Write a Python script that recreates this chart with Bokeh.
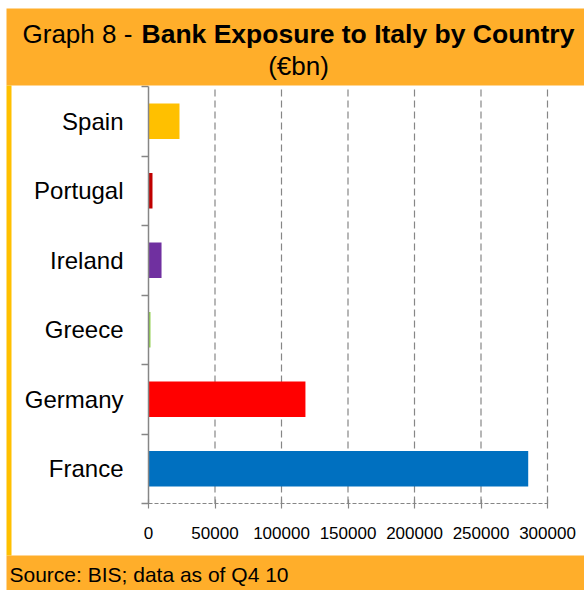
from bokeh.plotting import figure
from bokeh.models import (Range1d, LinearAxis, FixedTicker, Label, BoxAnnotation,
                          BasicTickFormatter, ColumnDataSource)
from bokeh.embed import file_html
from bokeh.resources import INLINE

# ---- data ----
countries = ["France", "Germany", "Greece", "Ireland", "Portugal", "Spain"]
exposure = [285500, 118000, 1500, 9800, 3000, 23300]
bar_colors = ["#0070C0", "#FF0000", "#92D050", "#7030A0", "#C00000", "#FFC000"]
x_ticks = [0, 50000, 100000, 150000, 200000, 250000, 300000]

title_plain = "Graph 8 - "
title_bold = "Bank Exposure to Italy by Country"
subtitle = "(€bn)"
source_text = "Source: BIS; data as of Q4 10"

ORANGE = "#FFAE2A"
YELLOW = "#FFC000"
GRAY = "#868686"
FONT = "Liberation Sans"

# ---- layout (page pixels; canvas sits at page origin) ----
W, H = 584, 590
x0_px, x300_px = 148, 547
y0_px, y6_px = 503, 86

n = len(countries)
xmax = x_ticks[-1]
xs_per_px = xmax / (x300_px - x0_px)
ys_per_px = n / (y0_px - y6_px)


def X(px):
    return (px - x0_px) * xs_per_px


def Y(py):
    return (y0_px - py) * ys_per_px


p = figure(width=W, height=H,
           x_range=Range1d(X(0), X(W)), y_range=Range1d(Y(H), Y(0)),
           x_axis_location=None, y_axis_location=None,
           min_border=0, min_border_left=0, min_border_right=0,
           min_border_top=0, min_border_bottom=0,
           border_fill_color="white", background_fill_color="white",
           outline_line_color=None, toolbar_location=None,
           output_backend="svg")
p.xgrid.visible = False
p.ygrid.visible = False

# frame decoration: orange title band, source band, yellow left strip
p.add_layout(BoxAnnotation(left=X(6), top=Y(8), bottom=Y(85),
                           fill_color=ORANGE, fill_alpha=1, line_color=None))
p.add_layout(BoxAnnotation(left=X(6), top=Y(555),
                           fill_color=ORANGE, fill_alpha=1, line_color=None))
p.add_layout(BoxAnnotation(left=X(6), right=X(11), top=Y(85), bottom=Y(555),
                           fill_color=YELLOW, fill_alpha=1, line_color=None))

ypos = [i + 0.5 for i in range(n)]
src = ColumnDataSource(dict(y=ypos, v=exposure, c=bar_colors, name=countries))

# dashed vertical gridlines over the plot area
p.segment(x0=x_ticks[1:], y0=[0] * (len(x_ticks) - 1),
          x1=x_ticks[1:], y1=[n] * (len(x_ticks) - 1),
          line_color=GRAY, line_width=1.2, line_dash="7 4")

p.hbar(y="y", left=0, right="v", height=0.51, fill_color="c",
       line_color=None, source=src)

# y axis (categories) fixed at x=0
yaxis = LinearAxis(fixed_location=0, bounds=(0, n),
                   ticker=FixedTicker(ticks=ypos, minor_ticks=list(range(n + 1))),
                   major_label_overrides={yy: c for yy, c in zip(ypos, countries)})
yaxis.axis_line_color = GRAY
yaxis.axis_line_width = 1.5
yaxis.major_tick_out = 0
yaxis.major_tick_in = 0
yaxis.major_tick_line_color = None
yaxis.minor_tick_out = 7
yaxis.minor_tick_in = 0
yaxis.minor_tick_line_color = GRAY
yaxis.minor_tick_line_width = 1.5
yaxis.major_label_standoff = 18
yaxis.major_label_text_font = FONT
yaxis.major_label_text_font_size = "24px"
yaxis.major_label_text_color = "black"
p.add_layout(yaxis, "left")

# x axis fixed at y=0
xaxis = LinearAxis(fixed_location=0, bounds=(0, xmax),
                   ticker=FixedTicker(ticks=x_ticks, minor_ticks=[]),
                   formatter=BasicTickFormatter(use_scientific=False))
xaxis.axis_line_color = GRAY
xaxis.axis_line_width = 1.2
xaxis.axis_line_dash = "4 2"
xaxis.major_tick_out = 5
xaxis.major_tick_in = 4
xaxis.major_tick_line_color = GRAY
xaxis.major_tick_line_width = 1.2
xaxis.minor_tick_line_color = None
xaxis.major_label_standoff = 18
xaxis.major_label_text_font = FONT
xaxis.major_label_text_font_size = "17px"
xaxis.major_label_text_color = "black"
p.add_layout(xaxis, "below")

# titles and source
p.add_layout(Label(x=X(22), y=Y(33), text=title_plain, text_font=FONT,
                   text_font_size="26px", text_align="left",
                   text_baseline="middle", text_color="black"))
p.add_layout(Label(x=X(141), y=Y(33), text=title_bold, text_font=FONT,
                   text_font_size="26.5px", text_font_style="bold",
                   text_align="left", text_baseline="middle", text_color="black"))
p.add_layout(Label(x=X(298), y=Y(65), text=subtitle, text_font=FONT,
                   text_font_size="26px", text_align="center",
                   text_baseline="middle", text_color="black"))
p.add_layout(Label(x=X(9), y=Y(574), text=source_text, text_font=FONT,
                   text_font_size="21px", text_align="left",
                   text_baseline="middle", text_color="black"))

open("out.html", "w").write(file_html(p, INLINE))
